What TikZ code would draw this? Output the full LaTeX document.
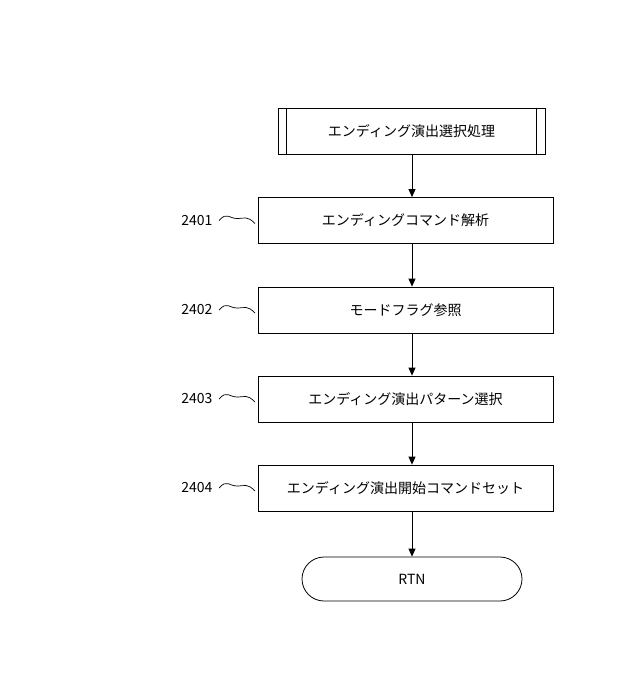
\documentclass[tikz,border=0pt]{standalone}
\usepackage{fontspec}
\setmainfont{Noto Sans CJK JP}
\usetikzlibrary{arrows.meta}
\begin{document}
\begin{tikzpicture}[x=1pt,y=-1pt,
 box/.style={draw,line width=0.8pt,minimum width=295pt,minimum height=46pt,font=\fontsize{14}{16}\selectfont},
 lbl/.style={font=\fontsize{14}{16}\selectfont},
 arr/.style={-{Triangle[length=8pt,width=7pt]},line width=0.8pt}]
\useasboundingbox (0,0) rectangle (640,685);
\node[box,minimum width=267pt] (s) at (411.5,131) {エンディング演出選択処理};
\draw[line width=0.8pt] ([xshift=9pt]s.north west) -- ([xshift=9pt]s.south west)
  ([xshift=-9pt]s.north east) -- ([xshift=-9pt]s.south east);
\node[box] (b1) at (405.5,220.5) {エンディングコマンド解析};
\node[box] (b2) at (405.5,310) {モードフラグ参照};
\node[box] (b3) at (405.5,399) {エンディング演出パターン選択};
\node[box] (b4) at (405.5,488) {エンディング演出開始コマンドセット};
\node[draw,line width=0.8pt,rounded corners=22pt,minimum width=220pt,minimum height=44pt,font=\fontsize{14}{16}\selectfont] (r) at (412,579) {RTN};
\draw[arr] (s.south -| 412,0) -- (b1.north -| 412,0);
\draw[arr] (b1.south -| 412,0) -- (b2.north -| 412,0);
\draw[arr] (b2.south -| 412,0) -- (b3.north -| 412,0);
\draw[arr] (b3.south -| 412,0) -- (b4.north -| 412,0);
\draw[arr] (b4.south -| 412,0) -- (r.north);
\foreach \n/\y/\t in {l1/220.5/2401,l2/310/2402,l3/399/2403,l4/488/2404}{
  \node[lbl,anchor=east] (\n) at (216,\y) {\t};
  \draw[line width=0.7pt] (\n.east) ++(3,0) .. controls +(8,-9) and +(-8,0) .. ++(18,-2)
     .. controls +(8,0) and +(-8,-8) .. ++(18,5);
}
\end{tikzpicture}
\end{document}
